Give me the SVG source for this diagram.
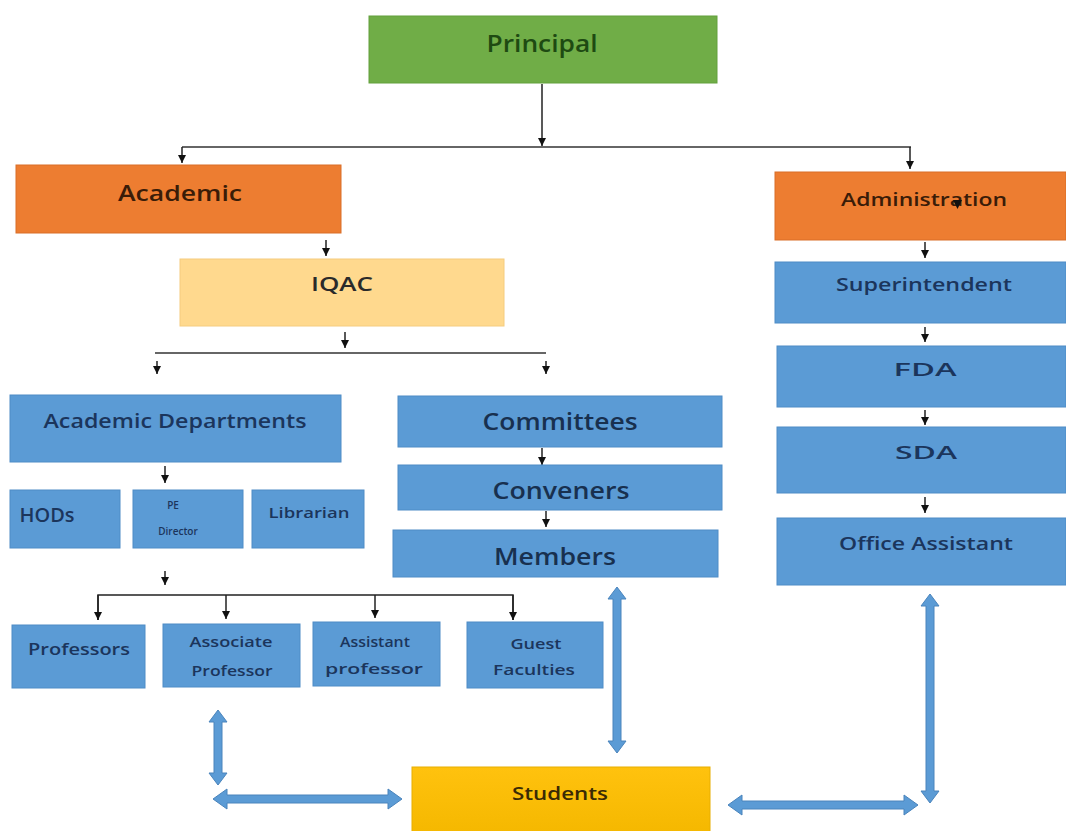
<svg xmlns="http://www.w3.org/2000/svg" width="1066" height="831" viewBox="0 0 1066 831">
<defs>
<marker id="ad" markerWidth="8" markerHeight="9" refX="4" refY="9" markerUnits="userSpaceOnUse" viewBox="0 0 8 9">
<path d="M0,1 L8,1 L4,9 Z" fill="#111"/>
</marker>
<linearGradient id="gStu" x1="0" y1="0" x2="0" y2="1">
<stop offset="0" stop-color="#FFC20E"/>
<stop offset="1" stop-color="#F5B800"/>
</linearGradient>
</defs>
<style>
.blue{fill:#5B9BD5;stroke:#4F8CC6;stroke-width:1}
.org{fill:#ED7D31;stroke:#D96F28;stroke-width:1}
.t{font-family:"Open Sans","Liberation Sans",sans-serif;font-weight:600;text-anchor:middle;fill:#1B355C}
.ln{stroke:#222;stroke-width:1.5;fill:none}
.hl{stroke:#666;stroke-width:2.2;fill:none}
.ba{fill:#5B9BD5;stroke:#4A84BC;stroke-width:1}
</style>
<rect width="1066" height="831" fill="#FFFFFF"/>

<g id="connectors">
<line class="ln" x1="542" y1="84" x2="542" y2="146" marker-end="url(#ad)"/>
<line class="hl" x1="182" y1="147" x2="911" y2="147"/>
<line class="ln" x1="182" y1="147" x2="182" y2="163" marker-end="url(#ad)"/>
<line class="ln" x1="910" y1="147" x2="910" y2="169" marker-end="url(#ad)"/>
<line class="ln" x1="326" y1="240" x2="326" y2="256" marker-end="url(#ad)"/>
<line class="ln" x1="345" y1="332" x2="345" y2="348" marker-end="url(#ad)"/>
<line class="hl" x1="155" y1="353" x2="546" y2="353"/>
<line class="ln" x1="157" y1="361" x2="157" y2="374" marker-end="url(#ad)"/>
<line class="ln" x1="546" y1="361" x2="546" y2="374" marker-end="url(#ad)"/>
<line class="ln" x1="165" y1="466" x2="165" y2="483" marker-end="url(#ad)"/>
<line class="ln" x1="542" y1="448" x2="542" y2="465" marker-end="url(#ad)"/>
<line class="ln" x1="546" y1="511" x2="546" y2="527" marker-end="url(#ad)"/>
<line class="ln" x1="165" y1="571" x2="165" y2="585" marker-end="url(#ad)"/>
<path class="ln" d="M98,620 V595 H513 V620"/>
<line class="ln" x1="98" y1="595" x2="98" y2="620" marker-end="url(#ad)"/>
<line class="ln" x1="226" y1="595" x2="226" y2="619" marker-end="url(#ad)"/>
<line class="ln" x1="375" y1="595" x2="375" y2="618" marker-end="url(#ad)"/>
<line class="ln" x1="513" y1="595" x2="513" y2="620" marker-end="url(#ad)"/>
<line class="ln" x1="925" y1="242" x2="925" y2="258" marker-end="url(#ad)"/>
<line class="ln" x1="925" y1="327" x2="925" y2="342" marker-end="url(#ad)"/>
<line class="ln" x1="925" y1="410" x2="925" y2="425" marker-end="url(#ad)"/>
<line class="ln" x1="925" y1="497" x2="925" y2="513" marker-end="url(#ad)"/>
<polygon class="ba" points="617,587 626,599 621,599 621,741 626,741 617,753 608,741 613,741 613,599 608,599"/>
<polygon class="ba" points="930,594 939,606 934,606 934,791 939,791 930,803 921,791 926,791 926,606 921,606"/>
<polygon class="ba" points="218,710 227,722 222,722 222,773 227,773 218,785 209,773 214,773 214,722 209,722"/>
<polygon class="ba" points="213,799 227,789 227,795 388,795 388,789 402,799 388,809 388,803 227,803 227,809"/>
<polygon class="ba" points="728,805 742,795 742,801 904,801 904,795 918,805 904,815 904,809 742,809 742,815"/>
</g>

<g id="principal"><rect x="369" y="16" width="348" height="67" fill="#70AD47" stroke="#62A03C"/><text class="t" x="542" y="52" font-size="23" textLength="111" lengthAdjust="spacingAndGlyphs" style="fill:#1E4A12">Principal</text></g>
<g id="academic"><rect class="org" x="16" y="165" width="325" height="68"/><text class="t" x="180" y="201" font-size="21" textLength="124" lengthAdjust="spacingAndGlyphs" style="fill:#3A1C08">Academic</text></g>
<g id="administration"><rect class="org" x="775" y="172" width="291" height="68"/><text class="t" x="924" y="206" font-size="18" textLength="166" lengthAdjust="spacingAndGlyphs" style="fill:#3A1C08">Administration</text><path d="M953,200 L962,200 L957.5,209 Z" fill="#111"/></g>
<g id="iqac"><rect x="180" y="259" width="324" height="67" fill="#FFD98E" stroke="#F5CC7E"/><text class="t" x="342" y="291" font-size="20" textLength="62" lengthAdjust="spacingAndGlyphs" style="fill:#2A2A2A">IQAC</text></g>
<g id="academic-departments"><rect class="blue" x="10" y="395" width="331" height="67"/><text class="t" x="175" y="428" font-size="19" textLength="263" lengthAdjust="spacingAndGlyphs">Academic Departments</text></g>
<g id="committees"><rect class="blue" x="398" y="396" width="324" height="51"/><text class="t" x="560" y="430" font-size="24" textLength="155" lengthAdjust="spacingAndGlyphs" style="fill:#18304F">Committees</text></g>
<g id="conveners"><rect class="blue" x="398" y="465" width="324" height="45"/><text class="t" x="561" y="499" font-size="24" textLength="137" lengthAdjust="spacingAndGlyphs" style="fill:#18304F">Conveners</text></g>
<g id="members"><rect class="blue" x="393" y="530" width="325" height="47"/><text class="t" x="555" y="565" font-size="24" textLength="122" lengthAdjust="spacingAndGlyphs" style="fill:#18304F">Members</text></g>
<g id="hods"><rect class="blue" x="10" y="490" width="110" height="58"/><text class="t" x="47" y="522" font-size="19" textLength="55" lengthAdjust="spacingAndGlyphs">HODs</text></g>
<g id="pe-director"><rect class="blue" x="133" y="490" width="110" height="58"/><text class="t" x="173" y="509" font-size="10">PE</text><text class="t" x="178" y="535" font-size="10">Director</text></g>
<g id="librarian"><rect class="blue" x="252" y="490" width="112" height="58"/><text class="t" x="309" y="518" font-size="15" textLength="81" lengthAdjust="spacingAndGlyphs">Librarian</text></g>
<g id="professors"><rect class="blue" x="12" y="625" width="133" height="63"/><text class="t" x="79" y="655" font-size="16" textLength="102" lengthAdjust="spacingAndGlyphs">Professors</text></g>
<g id="associate-professor"><rect class="blue" x="163" y="624" width="137" height="63"/><text class="t" x="231" y="647" font-size="15" textLength="83" lengthAdjust="spacingAndGlyphs">Associate</text><text class="t" x="232" y="676" font-size="15" textLength="81" lengthAdjust="spacingAndGlyphs">Professor</text></g>
<g id="assistant-professor"><rect class="blue" x="313" y="622" width="127" height="64"/><text class="t" x="375" y="647" font-size="15" textLength="70" lengthAdjust="spacingAndGlyphs">Assistant</text><text class="t" x="374" y="674" font-size="15" textLength="98" lengthAdjust="spacingAndGlyphs">professor</text></g>
<g id="guest-faculties"><rect class="blue" x="467" y="622" width="136" height="66"/><text class="t" x="536" y="649" font-size="15" textLength="51" lengthAdjust="spacingAndGlyphs">Guest</text><text class="t" x="534" y="675" font-size="15" textLength="82" lengthAdjust="spacingAndGlyphs">Faculties</text></g>
<g id="superintendent"><rect class="blue" x="775" y="262" width="291" height="61"/><text class="t" x="924" y="291" font-size="18" textLength="176" lengthAdjust="spacingAndGlyphs">Superintendent</text></g>
<g id="fda"><rect class="blue" x="777" y="346" width="289" height="61"/><text class="t" x="925" y="376" font-size="18" textLength="63" lengthAdjust="spacingAndGlyphs">FDA</text></g>
<g id="sda"><rect class="blue" x="777" y="427" width="289" height="66"/><text class="t" x="926" y="459" font-size="18" textLength="62" lengthAdjust="spacingAndGlyphs">SDA</text></g>
<g id="office-assistant"><rect class="blue" x="777" y="518" width="289" height="67"/><text class="t" x="926" y="550" font-size="18" textLength="174" lengthAdjust="spacingAndGlyphs">Office Assistant</text></g>
<g id="students"><rect x="412" y="767" width="298" height="66" fill="url(#gStu)" stroke="#E8AE00"/><text class="t" x="560" y="800" font-size="18" textLength="96" lengthAdjust="spacingAndGlyphs" style="fill:#3A2A05">Students</text></g>
</svg>
